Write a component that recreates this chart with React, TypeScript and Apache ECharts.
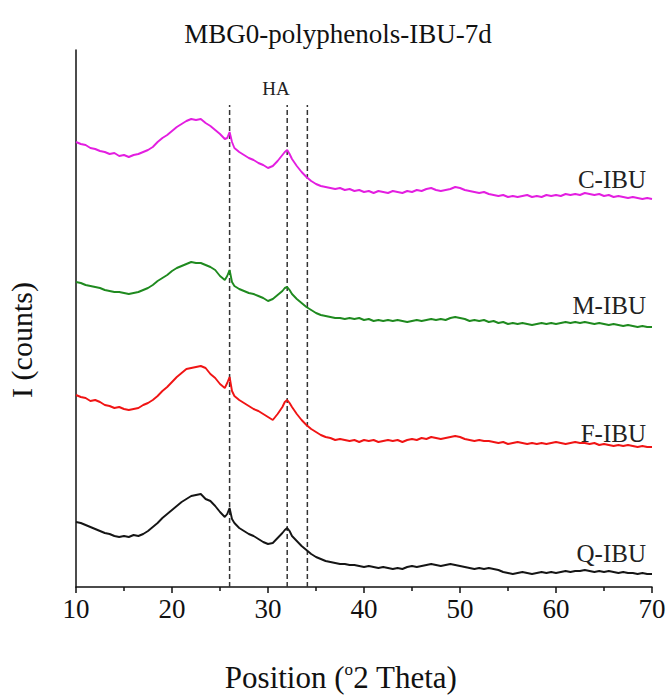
import React, { useEffect, useRef } from "react";
import * as echarts from "echarts";

// 2θ grid (degrees)
const twoTheta: number[] = [
  10, 10.5, 11, 11.5, 12, 12.5, 13, 13.5, 14, 14.5,
  15, 15.5, 16, 16.5, 17, 17.5, 18, 18.5, 19, 19.5,
  20, 20.5, 21, 21.5, 22, 22.5, 23, 23.5, 24, 24.5,
  25, 25.5, 25.75, 26, 26.25, 26.5,
  27, 27.5, 28, 28.5, 29, 29.5, 30, 30.5, 31, 31.5,
  31.75, 32, 32.25, 32.5,
  33, 33.5, 34, 34.5, 35, 35.5, 36, 36.5, 37, 37.5,
  38, 38.5, 39, 39.5, 40, 40.5, 41, 41.5, 42, 42.5,
  43, 43.5, 44, 44.5, 45, 45.5, 46, 46.5, 47, 47.5,
  48, 48.5, 49, 49.5, 50, 50.5, 51, 51.5, 52, 52.5,
  53, 53.5, 54, 54.5, 55, 55.5, 56, 56.5, 57, 57.5,
  58, 58.5, 59, 59.5, 60, 60.5, 61, 61.5, 62, 62.5,
  63, 63.5, 64, 64.5, 65, 65.5, 66, 66.5, 67, 67.5,
  68, 68.5, 69, 69.5, 70,
];

// stacked (offset) intensities, arbitrary units
const cIBU: number[] = [
  449, 447, 446, 443, 442, 440, 439, 437, 438, 435,
  436, 434, 436, 437, 439, 441, 444, 449, 453, 456,
  460, 464, 467, 470, 472, 471, 472, 468, 465, 461,
  457, 452, 453, 459, 449, 443,
  439, 436, 433, 431, 428, 426, 423, 425, 430, 436,
  439, 441, 437, 432,
  425, 419, 414, 410, 407, 405, 404, 403, 402, 403,
  401, 402, 400, 401, 399, 400, 398, 400, 399, 398,
  400, 399, 398, 400, 399, 401, 400, 402, 403, 401,
  400, 401, 402, 404, 403, 401, 400, 399, 398, 399,
  397, 396, 395, 396, 394, 395, 394, 395, 396, 394,
  395, 394, 396, 395, 396, 395, 397, 396, 397, 396,
  398, 397, 396, 397, 395, 396, 394, 395, 394, 393,
  394, 393, 392, 393, 392,
];

const mIBU: number[] = [
  309, 308, 306, 305, 304, 303, 301, 300, 299, 299,
  298, 297, 298, 299, 301, 303, 306, 310, 313, 316,
  320, 323, 325, 327, 329, 328, 328, 326, 324, 321,
  315, 311, 315, 321, 309, 305,
  302, 300, 298, 297, 295, 293, 290, 292, 296, 300,
  303, 304, 301, 297,
  292, 288, 284, 281, 278, 276, 275, 274, 273, 273,
  272, 273, 272, 273, 271, 272, 270, 271, 270, 271,
  270, 271, 270, 269, 270, 271, 270, 271, 272, 271,
  272, 271, 273, 274, 273, 272, 270, 271, 270, 271,
  269, 270, 268, 269, 267, 268, 267, 268, 267, 266,
  267, 268, 267, 268, 267, 268, 269, 268, 269, 268,
  269, 268, 267, 268, 267, 266, 267, 266, 265, 266,
  265, 264, 265, 264, 264,
];

const fIBU: number[] = [
  196, 194, 193, 190, 191, 189, 186, 185, 183, 184,
  182, 181, 182, 183, 186, 188, 191, 195, 200, 204,
  209, 214, 218, 222, 223, 224, 225, 223, 217, 213,
  207, 203, 208, 214, 200, 195,
  191, 188, 185, 182, 180, 177, 174, 171, 177, 184,
  189, 191, 188, 184,
  177, 171, 166, 162, 159, 156, 154, 153, 151, 152,
  151, 150, 151, 149, 151, 150, 151, 149, 150, 151,
  150, 151, 149, 151, 152, 151, 153, 152, 154, 153,
  152, 153, 154, 155, 154, 152, 151, 150, 151, 150,
  150, 149, 148, 149, 147, 148, 149, 148, 147, 148,
  147, 148, 147, 148, 149, 148, 147, 148, 149, 148,
  148, 147, 148, 146, 147, 146, 145, 146, 145, 146,
  145, 144, 145, 144, 144,
];

const qIBU: number[] = [
  69, 68, 66, 64, 62, 60, 58, 57, 55, 54,
  55, 54, 56, 55, 57, 60, 64, 68, 73, 77,
  81, 85, 89, 92, 95, 96, 97, 92, 90, 85,
  79, 74, 77, 83, 72, 68,
  63, 60, 57, 55, 52, 49, 47, 48, 53, 58,
  61, 63, 60, 55,
  50, 45, 41, 37, 34, 32, 30, 29, 28, 27,
  27, 26, 26, 25, 24, 25, 24, 23, 24, 23,
  22, 23, 22, 24, 25, 24, 25, 26, 27, 26,
  25, 26, 27, 26, 25, 24, 23, 22, 23, 22,
  23, 22, 21, 19, 18, 17, 18, 19, 18, 17,
  18, 19, 18, 19, 18, 19, 20, 19, 20, 20,
  21, 20, 19, 20, 19, 20, 19, 18, 19, 18,
  18, 17, 18, 17, 17,
];

const seriesNames: string[] = ["C-IBU", "M-IBU", "F-IBU", "Q-IBU"];
const seriesColors: string[] = ["#e31ee0", "#1f8a1f", "#f01414", "#151515"];
const haPositions: number[] = [26, 32, 34.1];
const haTop = 486;
const yMin = 4;
const yMax = 541;
const xTicks: number[] = [10, 20, 30, 40, 50, 60, 70];

const FONT = "'Liberation Serif', 'Times New Roman', serif";

export default function App() {
  const ref = useRef<HTMLDivElement>(null);
  useEffect(() => {
    if (!ref.current) return;
    const chart = echarts.init(ref.current, undefined, { renderer: "svg" });
    const allY = [cIBU, mIBU, fIBU, qIBU];
    const lineSeries = allY.map((ys, i) => ({
      name: seriesNames[i],
      type: "line",
      data: twoTheta.slice(0, ys.length).map((x, j) => [x, ys[j]]),
      showSymbol: false,
      symbol: "none",
      lineStyle: { color: seriesColors[i], width: 1.9 },
      itemStyle: { color: seriesColors[i] },
      z: 3,
    }));
    const dashSeries = haPositions.map((x, i) => ({
      name: "HA" + i,
      type: "line",
      data: [
        [x, yMin],
        [x, haTop],
      ],
      showSymbol: false,
      symbol: "none",
      lineStyle: { color: "#333", width: 1.5, type: [5, 3] },
      z: 2,
    }));
    chart.setOption({
      animation: false,
      backgroundColor: "#fff",
      grid: { left: 76, right: 19, top: 50, bottom: 108 },
      xAxis: {
        type: "value",
        min: 10,
        max: 70,
        interval: 10,
        axisLine: { show: true, lineStyle: { color: "#111", width: 1.5 } },
        axisTick: { show: true, inside: false, length: 6, lineStyle: { color: "#111", width: 1.5 } },
        minorTick: { show: true, splitNumber: 2, length: 4, lineStyle: { color: "#111", width: 1.5 } },
        splitLine: { show: false },
        axisLabel: {
          color: "#111",
          fontFamily: FONT,
          fontSize: 27,
          margin: 8,
          formatter: (v: number) => (xTicks.includes(v) ? String(v) : ""),
        },
      },
      yAxis: {
        type: "value",
        min: yMin,
        max: yMax,
        axisLine: { show: true, lineStyle: { color: "#111", width: 1.5 } },
        axisTick: { show: false },
        axisLabel: { show: false },
        splitLine: { show: false },
      },
      graphic: [
        {
          type: "text",
          x: 338,
          y: 34,
          style: {
            text: "MBG0-polyphenols-IBU-7d",
            font: `27px ${FONT}`,
            fill: "#111",
            align: "center",
            verticalAlign: "middle",
          },
        },
        {
          type: "text",
          x: 276,
          y: 88,
          style: { text: "HA", font: `19px ${FONT}`, fill: "#222", align: "center", verticalAlign: "middle" },
        },
        {
          type: "text",
          x: 21,
          y: 340,
          rotation: Math.PI / 2,
          style: { text: "I (counts)", font: `30px ${FONT}`, fill: "#111", align: "center", verticalAlign: "middle" },
        },
        {
          type: "text",
          x: 341,
          y: 677,
          style: {
            text: "{n|Position (}{s|o}{n|2 Theta)}",
            align: "center",
            verticalAlign: "middle",
            rich: {
              n: { font: `31px ${FONT}`, fill: "#111", color: "#111" },
              s: { font: `17px ${FONT}`, fill: "#111", color: "#111", verticalAlign: "top", padding: [0, 0, 15, 0] },
            },
          },
        },
        ...[
          { t: seriesNames[0], y: 179 },
          { t: seriesNames[1], y: 305 },
          { t: seriesNames[2], y: 433 },
          { t: seriesNames[3], y: 553 },
        ].map((o) => ({
          type: "text",
          x: 646,
          y: o.y,
          style: { text: o.t, font: `25px ${FONT}`, fill: "#222", align: "right", verticalAlign: "middle" },
        })),
      ],
      series: [...lineSeries, ...dashSeries],
    });
    return () => chart.dispose();
  }, []);
  return <div ref={ref} style={{ width: 671, height: 695, position: "absolute", left: 0, top: 0 }} />;
}
